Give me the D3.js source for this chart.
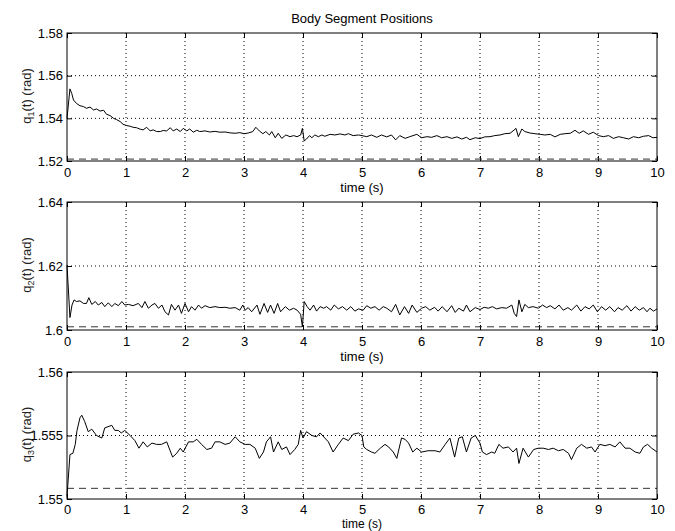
<!DOCTYPE html>
<html>
<head>
<meta charset="utf-8">
<script src="https://cdn.jsdelivr.net/npm/d3@7"></script>
<style>
  body { margin: 0; background: #fff; }
  svg { display: block; font-family: "Liberation Sans", Arial, Helvetica, sans-serif; }
</style>
</head>
<body>
<div id="chart"></div>
<script>
const timeTicks = [0, 1, 2, 3, 4, 5, 6, 7, 8, 9, 10];

const q1Ticks = [1.52, 1.54, 1.56, 1.58];
const q1TickLabels = ["1.52", "1.54", "1.56", "1.58"];
const q2Ticks = [1.6, 1.62, 1.64];
const q2TickLabels = ["1.6", "1.62", "1.64"];
const q3Ticks = [1.55, 1.555, 1.56];
const q3TickLabels = ["1.55", "1.555", "1.56"];

// desired (dashed) positions
const q1Ref = 1.5209;
const q2Ref = 1.6010;
const q3Ref = 1.55084;

const q1Data = [
  [0, 1.5400], [0.05, 1.5538], [0.08, 1.5517], [0.11, 1.5486], [0.16, 1.5470], [0.22, 1.5459], [0.28, 1.5455], [0.33, 1.5447], [0.39, 1.5453], [0.45, 1.5439],
  [0.50, 1.5444], [0.56, 1.5434], [0.62, 1.5438], [0.67, 1.5419], [0.73, 1.5413], [0.79, 1.5400], [0.84, 1.5394], [0.90, 1.5385], [0.95, 1.5372], [1.01, 1.5366],
  [1.07, 1.5363], [1.12, 1.5358], [1.18, 1.5356], [1.24, 1.5349], [1.29, 1.5346], [1.35, 1.5358], [1.41, 1.5341], [1.46, 1.5346], [1.52, 1.5338], [1.58, 1.5338],
  [1.63, 1.5343], [1.69, 1.5341], [1.75, 1.5356], [1.80, 1.5341], [1.86, 1.5350], [1.92, 1.5338], [1.97, 1.5353], [2.03, 1.5341], [2.08, 1.5350], [2.14, 1.5335],
  [2.20, 1.5344], [2.25, 1.5338], [2.34, 1.5341], [2.42, 1.5336], [2.51, 1.5339], [2.59, 1.5335], [2.68, 1.5336], [2.76, 1.5332], [2.85, 1.5330], [2.93, 1.5333],
  [3.00, 1.5328], [3.07, 1.5331], [3.15, 1.5338], [3.20, 1.5358], [3.26, 1.5341], [3.32, 1.5328], [3.37, 1.5338], [3.43, 1.5322], [3.47, 1.5338], [3.53, 1.5309],
  [3.58, 1.5330], [3.64, 1.5306], [3.71, 1.5322], [3.78, 1.5314], [3.84, 1.5319], [3.90, 1.5314], [3.96, 1.5322], [3.99, 1.5353], [4.02, 1.5294], [4.06, 1.5303],
  [4.11, 1.5319], [4.15, 1.5309], [4.20, 1.5322], [4.26, 1.5314], [4.32, 1.5322], [4.37, 1.5316], [4.46, 1.5325], [4.54, 1.5322], [4.63, 1.5327], [4.71, 1.5322],
  [4.77, 1.5328], [4.85, 1.5319], [4.94, 1.5322], [5.00, 1.5319], [5.08, 1.5314], [5.16, 1.5322], [5.25, 1.5311], [5.33, 1.5322], [5.42, 1.5313], [5.50, 1.5322],
  [5.57, 1.5299], [5.64, 1.5319], [5.73, 1.5306], [5.81, 1.5314], [5.93, 1.5325], [6.01, 1.5309], [6.10, 1.5314], [6.18, 1.5311], [6.27, 1.5319], [6.35, 1.5309],
  [6.44, 1.5314], [6.52, 1.5306], [6.61, 1.5313], [6.69, 1.5303], [6.77, 1.5311], [6.83, 1.5300], [6.92, 1.5309], [7.00, 1.5305], [7.08, 1.5313], [7.17, 1.5314],
  [7.25, 1.5319], [7.34, 1.5322], [7.42, 1.5328], [7.51, 1.5330], [7.56, 1.5341], [7.61, 1.5353], [7.65, 1.5314], [7.71, 1.5350], [7.76, 1.5338], [7.85, 1.5331],
  [7.93, 1.5328], [8.02, 1.5325], [8.10, 1.5322], [8.19, 1.5325], [8.27, 1.5313], [8.36, 1.5325], [8.44, 1.5328], [8.53, 1.5330], [8.61, 1.5344], [8.68, 1.5330],
  [8.75, 1.5341], [8.84, 1.5325], [8.92, 1.5335], [9.01, 1.5319], [9.09, 1.5314], [9.18, 1.5319], [9.26, 1.5306], [9.35, 1.5314], [9.43, 1.5309], [9.52, 1.5303],
  [9.60, 1.5314], [9.69, 1.5309], [9.77, 1.5316], [9.86, 1.5319], [9.93, 1.5309], [10.0, 1.5311]
];

const q2Data = [
  [0, 1.6203], [0.05, 1.6039], [0.085, 1.6078], [0.12, 1.6094], [0.16, 1.6089], [0.22, 1.6091], [0.28, 1.6083], [0.33, 1.6083], [0.37, 1.6101], [0.42, 1.6080],
  [0.48, 1.6089], [0.53, 1.6078], [0.59, 1.6086], [0.64, 1.6073], [0.70, 1.6085], [0.76, 1.6073], [0.81, 1.6083], [0.87, 1.6076], [0.93, 1.6089], [0.98, 1.6078],
  [1.04, 1.6080], [1.12, 1.6076], [1.21, 1.6083], [1.27, 1.6070], [1.32, 1.6089], [1.38, 1.6068], [1.44, 1.6078], [1.49, 1.6083], [1.55, 1.6068], [1.61, 1.6078],
  [1.66, 1.6057], [1.72, 1.6047], [1.77, 1.6080], [1.83, 1.6062], [1.89, 1.6078], [1.94, 1.6052], [2.00, 1.6083], [2.06, 1.6057], [2.11, 1.6073], [2.17, 1.6062],
  [2.23, 1.6078], [2.28, 1.6068], [2.34, 1.6076], [2.42, 1.6070], [2.51, 1.6073], [2.59, 1.6070], [2.68, 1.6071], [2.76, 1.6068], [2.85, 1.6070], [2.93, 1.6062],
  [2.98, 1.6078], [3.02, 1.6062], [3.07, 1.6070], [3.13, 1.6057], [3.22, 1.6078], [3.27, 1.6049], [3.34, 1.6083], [3.40, 1.6055], [3.45, 1.6078], [3.51, 1.6052],
  [3.57, 1.6083], [3.62, 1.6057], [3.70, 1.6073], [3.77, 1.6062], [3.84, 1.6068], [3.90, 1.6062], [3.96, 1.6049], [3.99, 1.6010], [4.02, 1.6089], [4.07, 1.6073],
  [4.12, 1.6062], [4.18, 1.6078], [4.23, 1.6059], [4.29, 1.6073], [4.35, 1.6068], [4.40, 1.6073], [4.47, 1.6062], [4.53, 1.6078], [4.60, 1.6066], [4.67, 1.6073],
  [4.74, 1.6062], [4.81, 1.6073], [4.88, 1.6059], [4.94, 1.6066], [5.02, 1.6062], [5.08, 1.6076], [5.15, 1.6068], [5.22, 1.6073], [5.29, 1.6062], [5.36, 1.6073],
  [5.42, 1.6068], [5.50, 1.6057], [5.57, 1.6080], [5.64, 1.6047], [5.72, 1.6073], [5.79, 1.6052], [5.85, 1.6078], [5.93, 1.6055], [6.01, 1.6068], [6.08, 1.6073],
  [6.15, 1.6062], [6.23, 1.6071], [6.29, 1.6059], [6.36, 1.6073], [6.44, 1.6057], [6.52, 1.6076], [6.58, 1.6055], [6.64, 1.6068], [6.72, 1.6059], [6.77, 1.6078],
  [6.83, 1.6057], [6.92, 1.6070], [7.00, 1.6064], [7.07, 1.6071], [7.14, 1.6068], [7.21, 1.6073], [7.28, 1.6066], [7.37, 1.6070], [7.45, 1.6068], [7.54, 1.6078],
  [7.58, 1.6052], [7.62, 1.6042], [7.66, 1.6094], [7.71, 1.6057], [7.76, 1.6080], [7.82, 1.6070], [7.90, 1.6073], [7.99, 1.6068], [8.06, 1.6078], [8.13, 1.6070],
  [8.19, 1.6076], [8.27, 1.6066], [8.34, 1.6078], [8.41, 1.6062], [8.49, 1.6070], [8.55, 1.6062], [8.64, 1.6078], [8.71, 1.6059], [8.78, 1.6073], [8.85, 1.6066],
  [8.92, 1.6078], [8.99, 1.6057], [9.06, 1.6073], [9.13, 1.6062], [9.20, 1.6073], [9.28, 1.6057], [9.34, 1.6070], [9.41, 1.6062], [9.49, 1.6076], [9.56, 1.6059],
  [9.63, 1.6073], [9.70, 1.6062], [9.77, 1.6070], [9.83, 1.6057], [9.88, 1.6068], [9.94, 1.6059], [10.0, 1.6066]
];

const q3Data = [
  [0, 1.5502], [0.05, 1.5535], [0.10, 1.5536], [0.14, 1.5543], [0.17, 1.5554], [0.22, 1.5564], [0.25, 1.5566], [0.30, 1.5561], [0.36, 1.5553], [0.42, 1.5555],
  [0.50, 1.5550], [0.59, 1.5548], [0.64, 1.5556], [0.76, 1.5558], [0.81, 1.5554], [0.87, 1.5554], [0.92, 1.5552], [0.98, 1.5554], [1.07, 1.5550], [1.15, 1.5546],
  [1.22, 1.5540], [1.29, 1.5545], [1.36, 1.5541], [1.44, 1.5544], [1.52, 1.5543], [1.60, 1.5543], [1.69, 1.5545], [1.79, 1.5533], [1.86, 1.5536], [1.92, 1.5540],
  [1.97, 1.5537], [2.06, 1.5545], [2.14, 1.5545], [2.20, 1.5547], [2.28, 1.5543], [2.37, 1.5539], [2.45, 1.5540], [2.51, 1.5545], [2.59, 1.5545], [2.68, 1.5543],
  [2.76, 1.5544], [2.85, 1.5549], [2.93, 1.5545], [3.02, 1.5543], [3.10, 1.5543], [3.19, 1.5540], [3.26, 1.5532], [3.33, 1.5537], [3.38, 1.5545], [3.45, 1.5549],
  [3.50, 1.5537], [3.58, 1.5545], [3.64, 1.5539], [3.72, 1.5541], [3.78, 1.5535], [3.86, 1.5539], [3.92, 1.5543], [3.96, 1.5554], [4.00, 1.5548], [4.06, 1.5553],
  [4.15, 1.5550], [4.23, 1.5549], [4.29, 1.5552], [4.37, 1.5548], [4.43, 1.5545], [4.51, 1.5537], [4.60, 1.5543], [4.68, 1.5548], [4.77, 1.5546], [4.85, 1.5551],
  [4.94, 1.5552], [5.00, 1.5550], [5.03, 1.5541], [5.08, 1.5539], [5.16, 1.5537], [5.22, 1.5536], [5.31, 1.5540], [5.39, 1.5543], [5.45, 1.5541], [5.53, 1.5537],
  [5.59, 1.5532], [5.67, 1.5548], [5.73, 1.5547], [5.79, 1.5544], [5.86, 1.5537], [5.93, 1.5540], [6.01, 1.5537], [6.12, 1.5538], [6.24, 1.5538], [6.32, 1.5537],
  [6.41, 1.5543], [6.49, 1.5548], [6.57, 1.5533], [6.64, 1.5548], [6.70, 1.5549], [6.77, 1.5537], [6.85, 1.5548], [6.92, 1.5550], [7.00, 1.5544], [7.04, 1.5537],
  [7.11, 1.5535], [7.20, 1.5537], [7.25, 1.5536], [7.32, 1.5543], [7.39, 1.5540], [7.48, 1.5541], [7.56, 1.5537], [7.62, 1.5540], [7.66, 1.5528], [7.73, 1.5540],
  [7.82, 1.5533], [7.91, 1.5539], [7.99, 1.5540], [8.07, 1.5540], [8.16, 1.5539], [8.24, 1.5540], [8.33, 1.5538], [8.41, 1.5539], [8.50, 1.5536], [8.55, 1.5531],
  [8.64, 1.5540], [8.72, 1.5543], [8.81, 1.5540], [8.89, 1.5541], [8.95, 1.5537], [9.03, 1.5543], [9.12, 1.5542], [9.20, 1.5543], [9.29, 1.5541], [9.37, 1.5545],
  [9.46, 1.5540], [9.54, 1.5540], [9.63, 1.5537], [9.71, 1.5536], [9.77, 1.5541], [9.84, 1.5543], [9.91, 1.5540], [10.0, 1.5537]
];

const width = 675;
const height = 531;
const left = 67;
const right = 657;
const fontSize = 13;

// the last panel sits against the page bottom, so its labels are packed tighter
const panels = [
  { data: q1Data, ticks: q1Ticks, labels: q1TickLabels, ref: q1Ref, sub: "1", top: 33, bottom: 161, pad: 7, xGap: 31, xSize: 13 },
  { data: q2Data, ticks: q2Ticks, labels: q2TickLabels, ref: q2Ref, sub: "2", top: 202, bottom: 330, pad: 7, xGap: 31, xSize: 13 },
  { data: q3Data, ticks: q3Ticks, labels: q3TickLabels, ref: q3Ref, sub: "3", top: 372, bottom: 499, pad: 6, xGap: 29, xSize: 12 }
];

const svg = d3
  .select("#chart")
  .append("svg")
  .attr("width", width)
  .attr("height", height);

const x = d3.scaleLinear().domain([0, 10]).range([left, right]);

const styleAxis = (g) => {
  g.attr("font-size", fontSize)
    .attr("font-family", "'Liberation Sans', Arial, Helvetica, sans-serif");
  g.select(".domain").remove();
  g.selectAll(".tick line").attr("stroke", "#000");
  g.selectAll(".tick text").attr("fill", "#000");
};

const drawPanel = (p) => {
  const y = d3
    .scaleLinear()
    .domain([p.ticks[0], p.ticks[p.ticks.length - 1]])
    .range([p.bottom, p.top]);

  const g = svg.append("g");

  // dotted grid
  g.append("g")
    .selectAll("line")
    .data(timeTicks.slice(1, -1))
    .join("line")
    .attr("x1", (d) => x(d))
    .attr("x2", (d) => x(d))
    .attr("y1", p.top)
    .attr("y2", p.bottom)
    .attr("stroke", "#000")
    .attr("stroke-width", 1)
    .attr("stroke-dasharray", "1,3");
  g.append("g")
    .selectAll("line")
    .data(p.ticks.slice(1, -1))
    .join("line")
    .attr("x1", left)
    .attr("x2", right)
    .attr("y1", (d) => y(d))
    .attr("y2", (d) => y(d))
    .attr("stroke", "#000")
    .attr("stroke-width", 1)
    .attr("stroke-dasharray", "1,3");

  // axes, ticks pointing inward
  g.append("g")
    .attr("transform", `translate(0,${p.bottom})`)
    .call(d3.axisBottom(x).tickValues(timeTicks).tickSizeInner(-5).tickSizeOuter(0).tickPadding(p.pad))
    .call(styleAxis);
  g.append("g")
    .attr("transform", `translate(0,${p.top})`)
    .call(d3.axisTop(x).tickValues(timeTicks).tickSizeInner(-5).tickSizeOuter(0).tickFormat(""))
    .call(styleAxis);
  g.append("g")
    .attr("transform", `translate(${left},0)`)
    .call(
      d3.axisLeft(y)
        .tickValues(p.ticks)
        .tickFormat((d, i) => p.labels[i])
        .tickSizeInner(-5)
        .tickSizeOuter(0)
        .tickPadding(4)
    )
    .call(styleAxis);
  g.append("g")
    .attr("transform", `translate(${right},0)`)
    .call(d3.axisRight(y).tickValues(p.ticks).tickSizeInner(-5).tickSizeOuter(0).tickFormat(""))
    .call(styleAxis);

  // reference line
  g.append("line")
    .attr("x1", x(0))
    .attr("x2", x(10))
    .attr("y1", y(p.ref))
    .attr("y2", y(p.ref))
    .attr("stroke", "#333")
    .attr("stroke-width", 1)
    .attr("stroke-dasharray", "7,5");

  // measured signal
  const line = d3
    .line()
    .x((d) => x(d[0]))
    .y((d) => y(d[1]));
  g.append("path")
    .datum(p.data)
    .attr("d", line)
    .attr("fill", "none")
    .attr("stroke", "#000")
    .attr("stroke-width", 1);

  // box
  g.append("rect")
    .attr("x", left)
    .attr("y", p.top)
    .attr("width", right - left)
    .attr("height", p.bottom - p.top)
    .attr("fill", "none")
    .attr("stroke", "#000")
    .attr("stroke-width", 1);

  // x label
  g.append("text")
    .attr("x", (left + right) / 2)
    .attr("y", p.bottom + p.xGap)
    .attr("text-anchor", "middle")
    .attr("font-size", p.xSize)
    .attr("fill", "#000")
    .text("time (s)");

  // y label
  const yl = g
    .append("text")
    .attr("transform", `translate(31,${(p.top + p.bottom) / 2 - 1}) rotate(-90)`)
    .attr("text-anchor", "middle")
    .attr("font-size", fontSize)
    .attr("fill", "#222");
  yl.append("tspan").text("q");
  yl.append("tspan").attr("font-size", 9).attr("dy", 3).text(p.sub);
  yl.append("tspan").attr("dy", -3).text("(t) (rad)");
};

panels.forEach(drawPanel);

svg
  .append("text")
  .attr("x", (left + right) / 2)
  .attr("y", 23)
  .attr("text-anchor", "middle")
  .attr("font-size", fontSize)
  .attr("fill", "#000")
  .text("Body Segment Positions");
</script>
</body>
</html>
